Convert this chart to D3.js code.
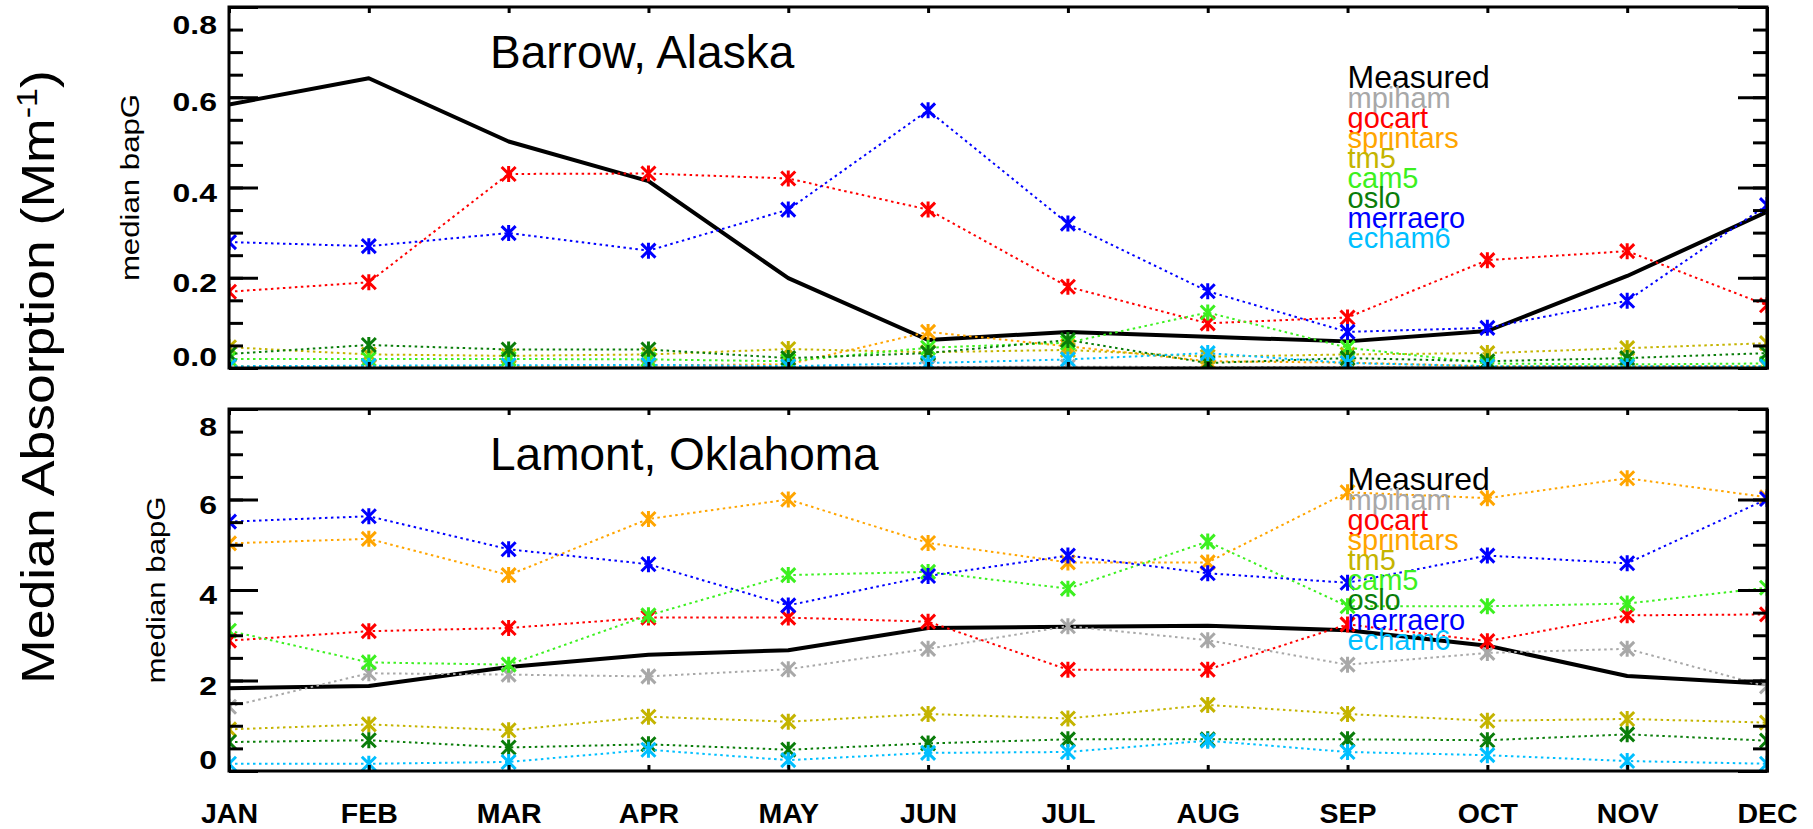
<!DOCTYPE html>
<html>
<head>
<meta charset="utf-8">
<script src="https://cdn.jsdelivr.net/npm/d3@7"></script>
<style>
  body { margin: 0; background: #fff; }
  svg { display: block; font-family: "Liberation Sans", Arial, Helvetica, sans-serif; }
</style>
</head>
<body>
<svg id="chart" width="1813" height="829"></svg>
<script>
const months = ["JAN", "FEB", "MAR", "APR", "MAY", "JUN", "JUL", "AUG", "SEP", "OCT", "NOV", "DEC"];
const models = ["mpiham", "gocart", "sprintars", "tm5", "cam5", "oslo", "merraero", "echam6"];
const modelColors = ["#a8a8a8", "#ff0000", "#ffa500", "#c4b400", "#3cf020", "#0a7d0a", "#0000ff", "#00bfff"];

// Barrow, Alaska (Mm-1)
const barrowMeasured  = [0.584, 0.642, 0.502, 0.414, 0.199, 0.062, 0.080, 0.069, 0.059, 0.082, 0.204, 0.346];
const barrowMpiham    = [0.002, 0.002, 0.001, 0.002, 0.002, 0.002, 0.003, 0.002, 0.002, 0.001, 0.001, 0.002];
const barrowGocart    = [0.169, 0.190, 0.430, 0.431, 0.420, 0.351, 0.180, 0.099, 0.112, 0.239, 0.259, 0.139];
const barrowSprintars = [0.004, 0.003, 0.004, 0.006, 0.008, 0.080, 0.048, 0.015, 0.012, 0.004, 0.004, 0.004];
const barrowTm5       = [0.046, 0.030, 0.027, 0.030, 0.042, 0.035, 0.040, 0.025, 0.030, 0.033, 0.044, 0.055];
const barrowCam5      = [0.020, 0.020, 0.020, 0.019, 0.015, 0.045, 0.056, 0.123, 0.045, 0.010, 0.008, 0.010];
const barrowOslo      = [0.031, 0.051, 0.041, 0.041, 0.022, 0.033, 0.062, 0.011, 0.022, 0.015, 0.022, 0.033];
const barrowMerraero  = [0.279, 0.270, 0.299, 0.260, 0.351, 0.571, 0.320, 0.170, 0.080, 0.089, 0.149, 0.361];
const barrowEcham6    = [0.004, 0.005, 0.006, 0.007, 0.004, 0.011, 0.019, 0.033, 0.011, 0.004, 0.004, 0.004];

// Lamont, Oklahoma (Mm-1)
const lamontMeasured  = [1.83, 1.88, 2.30, 2.57, 2.67, 3.16, 3.19, 3.21, 3.11, 2.77, 2.10, 1.93];
const lamontMpiham    = [1.42, 2.16, 2.13, 2.09, 2.25, 2.70, 3.20, 2.89, 2.35, 2.61, 2.70, 1.87];
const lamontGocart    = [2.88, 3.09, 3.16, 3.39, 3.39, 3.30, 2.24, 2.24, 3.24, 2.87, 3.44, 3.46];
const lamontSprintars = [5.03, 5.13, 4.33, 5.57, 6.00, 5.04, 4.61, 4.61, 6.16, 6.03, 6.47, 6.05];
const lamontTm5       = [0.92, 1.03, 0.90, 1.20, 1.09, 1.26, 1.16, 1.46, 1.26, 1.11, 1.15, 1.07];
const lamontCam5      = [3.10, 2.40, 2.35, 3.44, 4.33, 4.40, 4.03, 5.07, 3.64, 3.64, 3.70, 4.05];
const lamontOslo      = [0.64, 0.68, 0.52, 0.59, 0.47, 0.61, 0.70, 0.70, 0.70, 0.68, 0.81, 0.67];
const lamontMerraero  = [5.51, 5.63, 4.90, 4.57, 3.66, 4.31, 4.76, 4.37, 4.16, 4.76, 4.59, 6.01];
const lamontEcham6    = [0.16, 0.16, 0.20, 0.47, 0.24, 0.40, 0.42, 0.67, 0.42, 0.35, 0.22, 0.16];

const barrowTicks = [0, 0.2, 0.4, 0.6, 0.8];
const lamontTicks = [0, 2, 4, 6, 8];

const svg = d3.select('#chart');
const left = 229, right = 1767;

let x = d3.scalePoint()
  .domain(months)
  .range([left, right]);

function panel(cfg) {
  let y = d3.scaleLinear()
    .domain([0, cfg.yMax])
    .range([cfg.bottom, cfg.top]);
  let g = svg.append('g');

  g.append('clipPath').attr('id', cfg.id)
    .append('rect')
    .attr('x', left).attr('y', cfg.top)
    .attr('width', right - left).attr('height', cfg.bottom - cfg.top);

  let plot = g.append('g').attr('clip-path', `url(#${cfg.id})`);

  let line = d3.line()
    .x((d, i) => x(months[i]))
    .y(d => y(d));

  // measured first, models drawn over it
  plot.append('path')
    .datum(cfg.measured)
    .attr('fill', 'none')
    .attr('stroke', '#000')
    .attr('stroke-width', 4)
    .attr('stroke-linejoin', 'round')
    .attr('d', line);

  cfg.models.forEach((vals, k) => {
    plot.append('path')
      .datum(vals)
      .attr('fill', 'none')
      .attr('stroke', modelColors[k])
      .attr('stroke-width', 2)
      .attr('stroke-dasharray', '2.5,3.5')
      .attr('d', line);
    plot.selectAll(null)
      .data(vals)
      .enter()
      .append('path')
        .attr('transform', (d, i) => `translate(${x(months[i])},${y(d)})`)
        .attr('d', 'M-7,-7L7,7M-7,7L7,-7M0,-8L0,8')
        .attr('stroke', modelColors[k])
        .attr('stroke-width', 3)
        .attr('fill', 'none');
  });

  // ticks, all pointing inward
  let minor = d3.range(0, cfg.yMax + cfg.minorStep / 2, cfg.minorStep);
  let tickAxis = (sel, axis) => sel.call(axis)
    .call(s => s.select('.domain').remove())
    .call(s => s.selectAll('.tick line').attr('stroke-width', 3));

  g.append('g').attr('transform', `translate(${left},0)`)
    .call(s => tickAxis(s, d3.axisRight(y).tickValues(minor).tickSize(14).tickFormat('')));
  g.append('g').attr('transform', `translate(${left},0)`)
    .call(s => tickAxis(s, d3.axisRight(y).tickValues(cfg.ticks).tickSize(29).tickFormat('')));
  g.append('g').attr('transform', `translate(${right},0)`)
    .call(s => tickAxis(s, d3.axisLeft(y).tickValues(minor).tickSize(14).tickFormat('')));
  g.append('g').attr('transform', `translate(${right},0)`)
    .call(s => tickAxis(s, d3.axisLeft(y).tickValues(cfg.ticks).tickSize(29).tickFormat('')));
  g.append('g').attr('transform', `translate(0,${cfg.top})`)
    .call(s => tickAxis(s, d3.axisBottom(x).tickSize(6).tickFormat('')));
  g.append('g').attr('transform', `translate(0,${cfg.bottom})`)
    .call(s => tickAxis(s, d3.axisTop(x).tickSize(6).tickFormat('')));

  g.append('rect')
    .attr('x', left).attr('y', cfg.top)
    .attr('width', right - left).attr('height', cfg.bottom - cfg.top)
    .attr('fill', 'none')
    .attr('stroke', '#000')
    .attr('stroke-width', 3);
  g.append('line')
    .attr('x1', right + 1).attr('x2', right + 1)
    .attr('y1', cfg.top).attr('y2', cfg.bottom + 1.5)
    .attr('stroke', '#000')
    .attr('stroke-width', 2);

  // y tick labels (end labels kept inside the box, like the original)
  g.selectAll(null)
    .data(cfg.ticks)
    .enter()
    .append('text')
      .attr('transform', d => {
        let cy = Math.min(cfg.bottom - 11, Math.max(cfg.top + 18, y(d) + 5));
        return `translate(217,${cy}) scale(1.28,1)`;
      })
      .attr('dy', '0.36em')
      .attr('text-anchor', 'end')
      .attr('font-weight', 'bold')
      .attr('font-size', 25)
      .text(cfg.fmt);

  g.append('text')
    .attr('transform', `translate(${cfg.ylabX},${(cfg.top + cfg.bottom) / 2}) rotate(-90) scale(1.2,1)`)
    .attr('text-anchor', 'middle')
    .attr('font-size', 26)
    .text('median bapG');

  g.append('text')
    .attr('x', 490)
    .attr('y', cfg.top + 61)
    .attr('font-size', 46)
    .text(cfg.title);

  let legend = g.append('g');
  ['Measured'].concat(models).forEach((name, i) => {
    legend.append('text')
      .attr('x', x('SEP'))
      .attr('y', cfg.top + 81 + i * 20)
      .attr('font-size', i == 0 ? 32 : 29)
      .attr('fill', i == 0 ? '#000' : modelColors[i - 1])
      .text(name);
  });

  return y;
}

panel({
  id: 'clipTop', top: 7, bottom: 368, yMax: 0.8, minorStep: 0.05,
  ticks: barrowTicks, fmt: d3.format('.1f'), ylabX: 139,
  title: 'Barrow, Alaska',
  measured: barrowMeasured,
  models: [barrowMpiham, barrowGocart, barrowSprintars, barrowTm5, barrowCam5, barrowOslo, barrowMerraero, barrowEcham6]
});

panel({
  id: 'clipBottom', top: 409, bottom: 771, yMax: 8, minorStep: 0.5,
  ticks: lamontTicks, fmt: d3.format('d'), ylabX: 165,
  title: 'Lamont, Oklahoma',
  measured: lamontMeasured,
  models: [lamontMpiham, lamontGocart, lamontSprintars, lamontTm5, lamontCam5, lamontOslo, lamontMerraero, lamontEcham6]
});

// month labels
svg.append('g')
  .attr('transform', 'translate(0,771)')
  .call(d3.axisBottom(x).tickSize(0).tickPadding(32))
  .call(g => g.select('.domain').remove())
  .call(g => g.selectAll('text')
    .attr('font-family', '"Liberation Sans", Arial, sans-serif')
    .attr('font-size', 28.5)
    .attr('font-weight', 'bold')
    .attr('fill', '#000'));

// shared y title
let yTitle = svg.append('text')
  .attr('transform', 'translate(54,377) rotate(-90) scale(1.14,1)')
  .attr('text-anchor', 'middle')
  .attr('font-size', 47);
yTitle.append('tspan').text('Median Absorption (Mm');
yTitle.append('tspan').attr('dy', -17).attr('font-size', 30).text('-1');
yTitle.append('tspan').attr('dy', 17).text(')');
</script>
</body>
</html>
